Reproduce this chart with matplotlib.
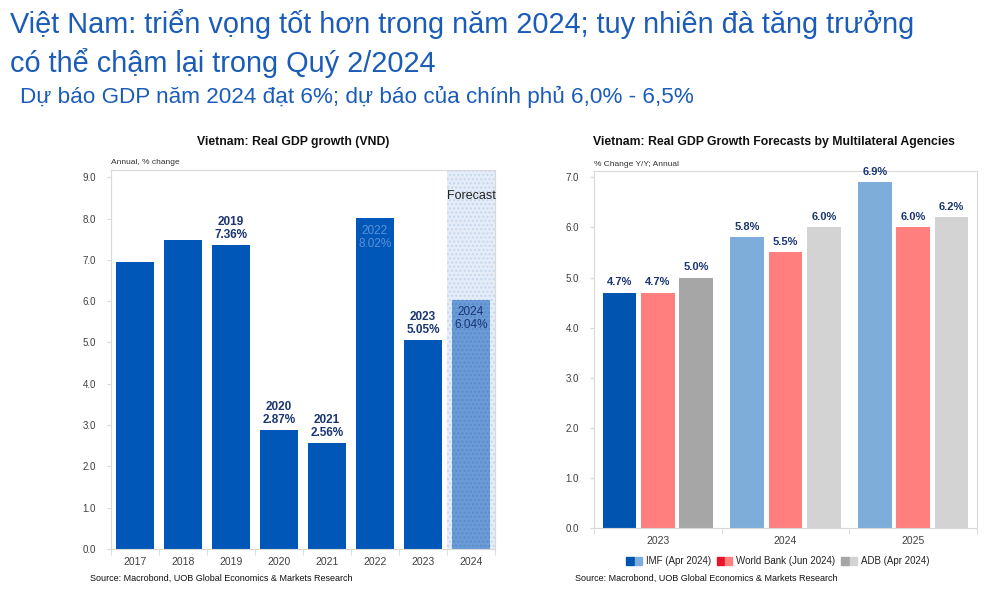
import matplotlib.pyplot as plt
import numpy as np
from matplotlib.patches import Patch
from matplotlib.legend_handler import HandlerTuple

plt.rcParams['font.family'] = ['Liberation Sans', 'DejaVu Sans']

# left chart data
years = ['2017', '2018', '2019', '2020', '2021', '2022', '2023', '2024']
gdp = [6.94, 7.47, 7.36, 2.87, 2.56, 8.02, 5.05, 6.04]
labelled = {'2019': 'out', '2020': 'out', '2021': 'out', '2022': 'in', '2023': 'out', '2024': 'in'}

# right chart data
fc_years = ['2023', '2024', '2025']
imf = [4.7, 5.8, 6.9]
wb = [4.7, 5.5, 6.0]
adb = [5.0, 6.0, 6.2]
agencies = ['IMF (Apr 2024)', 'World Bank (Jun 2024)', 'ADB (Apr 2024)']

TITLE_BLUE = '#1b5cb8'
NAVY = '#1a3572'
TICK = '#404040'
FRAME = '#d9d9d9'

fig = plt.figure(figsize=(10, 5.91), dpi=100)

fig.text(0.010, 0.944, 'Việt Nam: triển vọng tốt hơn trong năm 2024; tuy nhiên đà tăng trưởng',
         fontsize=20.8, color=TITLE_BLUE, va='baseline')
fig.text(0.010, 0.878, 'có thể chậm lại trong Quý 2/2024',
         fontsize=20.8, color=TITLE_BLUE, va='baseline')
fig.text(0.020, 0.826, 'Dự báo GDP năm 2024 đạt 6%; dự báo của chính phủ 6,0% - 6,5%',
         fontsize=16.2, color=TITLE_BLUE, va='baseline')


def style_axes(ax):
    for s in ax.spines.values():
        s.set_color(FRAME)
        s.set_linewidth(0.8)
    ax.tick_params(axis='y', labelsize=7, colors=TICK, length=3, color=FRAME, pad=8)
    ax.tick_params(axis='x', which='major', labelsize=7.5, colors=TICK, length=0, pad=6)
    ax.tick_params(axis='x', which='minor', length=4, color=FRAME)


# ---- left chart ----
ax1 = fig.add_axes([0.111, 0.071, 0.384, 0.641])
x = np.arange(len(years))
ax1.axvspan(6.5, 7.5, facecolor='#e4edf8', edgecolor='#c6d8ee', hatch='....', lw=0, zorder=0)
colors = ['#0057b7'] * 7 + ['#6a9bd6']
bars = ax1.bar(x, gdp, width=0.8, color=colors, zorder=2)
bars[-1].set_hatch('....')
bars[-1].set_edgecolor('#5b8ccc')
bars[-1].set_linewidth(0)
ax1.set_xlim(-0.5, 7.5)
ax1.set_ylim(0, 9.17)
ax1.set_yticks(np.arange(0, 9.1, 1.0))
ax1.set_yticklabels([f'{v:.1f}' for v in np.arange(0, 9.1, 1.0)])
ax1.set_xticks(x)
ax1.set_xticklabels(years)
ax1.set_xticks(np.arange(-0.5, 8, 1), minor=True)
style_axes(ax1)
for i, (yr, v) in enumerate(zip(years, gdp)):
    if yr not in labelled:
        continue
    txt = f'{yr}\n{v:.2f}%'
    if labelled[yr] == 'out':
        ax1.annotate(txt, (i, v), xytext=(0, 3), textcoords='offset points',
                     ha='center', va='bottom', fontsize=8.5, fontweight='bold',
                     color=NAVY, linespacing=1.1)
    else:
        col = '#5a90da' if yr == '2022' else NAVY
        ax1.annotate(txt, (i, v), xytext=(0, -5), textcoords='offset points',
                     ha='center', va='top', fontsize=8.5, color=col, linespacing=1.1)
ax1.text(7, 8.55, 'Forecast', ha='center', va='center', fontsize=9, color='#222222')
ax1.text(0.0, 1.01, 'Annual, % change', transform=ax1.transAxes, fontsize=6,
         color='#333333', va='bottom')
fig.text(0.293, 0.760, 'Vietnam: Real GDP growth (VND)', fontsize=8.8, fontweight='bold',
         color='#111111', ha='center', va='center')
fig.text(0.090, 0.018, 'Source: Macrobond, UOB Global Economics & Markets Research',
         fontsize=6.5, color='#111111')

# ---- right chart ----
ax2 = fig.add_axes([0.594, 0.107, 0.383, 0.603])
xr = np.arange(len(fc_years))
w = 0.265
off = 0.3
light = {'imf': '#7eaddb', 'wb': '#ff7f7f', 'adb': '#d3d3d3'}
dark = {'imf': '#0055b0', 'wb': '#e8142c', 'adb': '#a6a6a6'}
imf_cols = [dark['imf'], light['imf'], light['imf']]
adb_cols = [dark['adb'], light['adb'], light['adb']]
series = [(imf, imf_cols, -off), (wb, [light['wb']] * 3, 0), (adb, adb_cols, off)]
for vals, cols, dx in series:
    ax2.bar(xr + dx, vals, width=w, color=cols, zorder=2)
    for xi, v in zip(xr + dx, vals):
        ax2.annotate(f'{v:.1f}%', (xi, v), xytext=(0, 4), textcoords='offset points',
                     ha='center', va='bottom', fontsize=8, fontweight='bold', color=NAVY)
ax2.set_xlim(-0.5, 2.5)
ax2.set_ylim(0, 7.12)
ax2.set_yticks(np.arange(0, 7.1, 1.0))
ax2.set_yticklabels([f'{v:.1f}' for v in np.arange(0, 7.1, 1.0)])
ax2.set_xticks(xr)
ax2.set_xticklabels(fc_years)
ax2.set_xticks(np.arange(-0.5, 3, 1), minor=True)
style_axes(ax2)
ax2.text(0.0, 1.01, '% Change Y/Y; Annual', transform=ax2.transAxes, fontsize=6,
         color='#333333', va='bottom')
fig.text(0.774, 0.760, 'Vietnam: Real GDP Growth Forecasts by Multilateral Agencies',
         fontsize=8.8, fontweight='bold', color='#111111', ha='center', va='center')
handles = [(Patch(color=dark[k]), Patch(color=light[k])) for k in ('imf', 'wb', 'adb')]
ax2.legend(handles, agencies, handler_map={tuple: HandlerTuple(ndivide=None, pad=0.1)},
           loc='upper center', bbox_to_anchor=(0.48, -0.055), ncol=3, frameon=False,
           fontsize=7, handlelength=1.6, handleheight=0.9, handletextpad=0.4,
           columnspacing=0.6, labelcolor='#222222')
fig.text(0.575, 0.018, 'Source: Macrobond, UOB Global Economics & Markets Research',
         fontsize=6.5, color='#111111')

fig.savefig('out.png', dpi=100)
